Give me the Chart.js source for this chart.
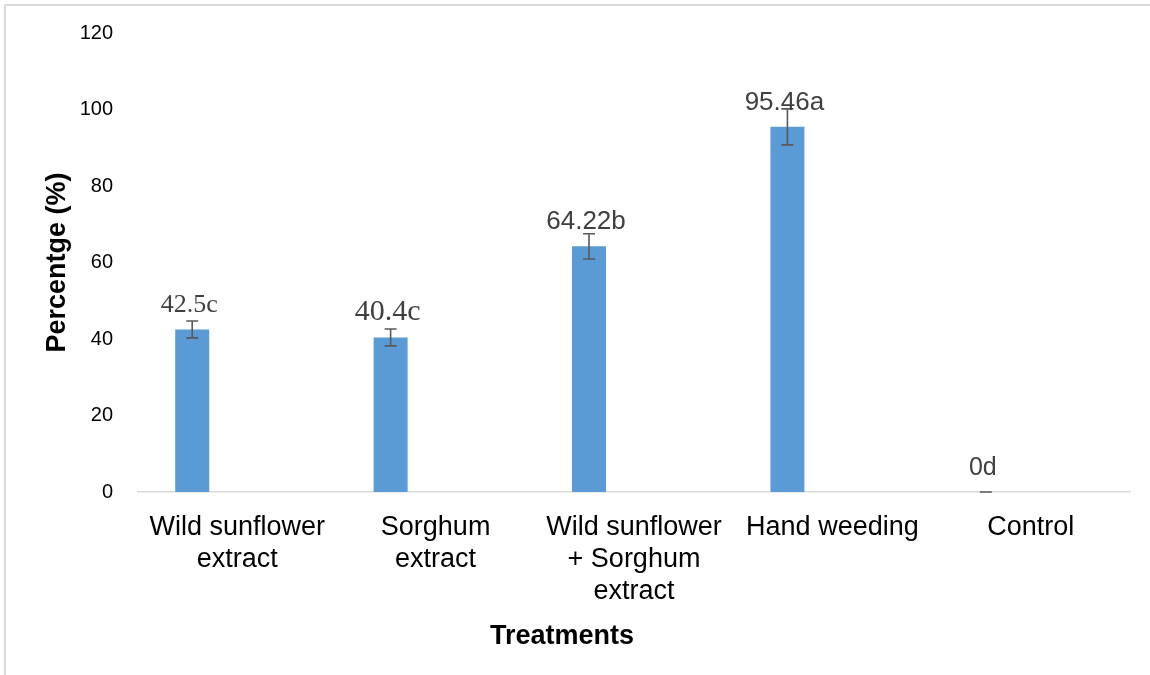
<!DOCTYPE html>
<html>
<head>
<meta charset="utf-8">
<script src="https://cdn.jsdelivr.net/npm/chart.js@4.4.1/dist/chart.umd.min.js"></script>
<style>
  body { margin: 0; background: #fff; }
  #wrap { width: 1150px; height: 675px; }
</style>
</head>
<body>
<div id="wrap"><canvas id="myChart" width="1150" height="675"></canvas></div>
<script>
// data
const treatments = [
  ["Wild sunflower", "extract"],
  ["Sorghum", "extract"],
  ["Wild sunflower", "+ Sorghum", "extract"],
  ["Hand weeding"],
  ["Control"]
];
const percentVals = [42.5, 40.4, 64.22, 95.46, 0];
const errVals = [2.2, 2.2, 3.3, 4.7, 0];
const letterLabels = ["42.5c", "40.4c", "64.22b", "95.46a", "0d"];
const yTicks = [0, 20, 40, 60, 80, 100, 120];

// label fonts differ in the original (first two look like Times)
const labelFonts = [
  "26px 'Liberation Serif'",
  "30px 'Liberation Serif'",
  "26px 'Liberation Sans'",
  "26px 'Liberation Sans'",
  "25px 'Liberation Sans'"
];

// outer frame
const framePlugin = {
  id: 'frame',
  beforeDraw(chart) {
    const c = chart.ctx;
    c.save();
    c.strokeStyle = '#d9d9d9';
    c.lineWidth = 2;
    c.beginPath();
    c.moveTo(5, 675);
    c.lineTo(5, 5);
    c.lineTo(1150, 5);
    c.stroke();
    c.restore();
  }
};

// error bars + letter labels
const barExtras = {
  id: 'barExtras',
  afterDatasetsDraw(chart) {
    const c = chart.ctx;
    const yScale = chart.scales.y;
    const meta = chart.getDatasetMeta(0);
    c.save();
    meta.data.forEach((bar, i) => {
      const v = percentVals[i];
      const e = errVals[i];
      const yTop = yScale.getPixelForValue(v + e);
      const yBot = yScale.getPixelForValue(v - e);
      c.strokeStyle = '#595959';
      c.lineWidth = 1.6;
      c.beginPath();
      c.moveTo(bar.x, yTop);
      c.lineTo(bar.x, yBot);
      c.moveTo(bar.x - 6, yTop);
      c.lineTo(bar.x + 6, yTop);
      c.moveTo(bar.x - 6, yBot);
      c.lineTo(bar.x + 6, yBot);
      c.stroke();

      c.fillStyle = '#404040';
      c.font = labelFonts[i];
      c.textAlign = 'center';
      c.textBaseline = 'alphabetic';
      c.fillText(letterLabels[i], bar.x - 3, bar.y - 17);
    });

    // x axis title
    c.fillStyle = '#000';
    c.font = "bold 27px 'Liberation Sans'";
    c.textAlign = 'center';
    c.textBaseline = 'middle';
    c.fillText('Treatments', 562, 637);
    c.restore();
  }
};

const ctx = document.getElementById('myChart');
new Chart(ctx, {
  type: 'bar',
  data: {
    labels: treatments,
    datasets: [{
      data: percentVals,
      backgroundColor: '#5b9bd5',
      borderWidth: 0,
      categoryPercentage: 0.907,
      barPercentage: 0.378
    }, {
      data: percentVals.map(() => null),
      backgroundColor: 'rgba(0,0,0,0)',
      categoryPercentage: 0.907,
      barPercentage: 0.378
    }]
  },
  options: {
    responsive: false,
    animation: false,
    layout: { padding: { left: 40, top: 33, right: 20, bottom: 0 } },
    plugins: {
      legend: { display: false },
      tooltip: { enabled: false }
    },
    scales: {
      x: {
        grid: { display: false },
        border: { color: '#d9d9d9', width: 1.5 },
        ticks: {
          color: '#000',
          padding: 12,
          maxRotation: 0,
          font: { family: 'Liberation Sans', size: 27, lineHeight: 1.18 }
        },
        afterFit(scale) {
          scale.height = 183;
          scale.paddingTop = 0;
          scale.paddingBottom = 0;
        }
      },
      y: {
        min: 0,
        max: 120,
        afterBuildTicks(scale) { scale.ticks = yTicks.map(v => ({ value: v })); },
        grid: { display: false, drawTicks: false },
        border: { display: false },
        ticks: {
          color: '#000',
          padding: 25,
          font: { family: 'Liberation Sans', size: 20 }
        },
        title: {
          display: true,
          text: 'Percentge (%)',
          color: '#000',
          padding: 1,
          font: { family: 'Liberation Sans', size: 27, weight: 'bold' }
        },
        afterFit(scale) {
          scale.width = 98;
          scale.paddingTop = 0;
          scale.paddingBottom = 0;
        }
      }
    }
  },
  plugins: [framePlugin, barExtras]
});
</script>
</body>
</html>
